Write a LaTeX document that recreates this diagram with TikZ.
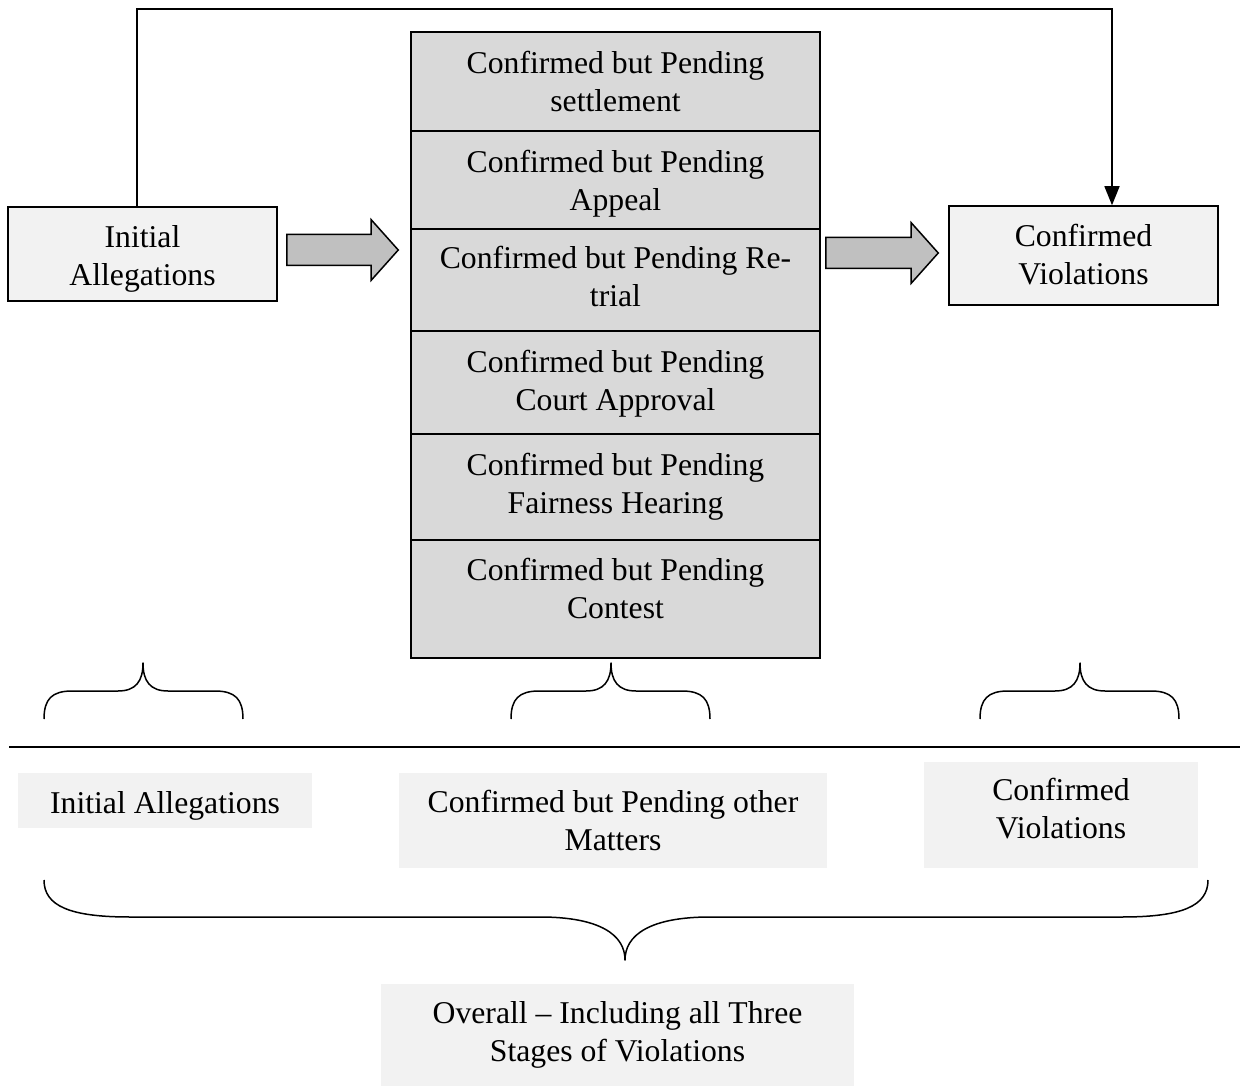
\documentclass[tikz,border=0pt]{standalone}
\usepackage{fontspec}
\setmainfont{Liberation Serif}
\usetikzlibrary{arrows.meta}
\definecolor{lightbox}{HTML}{F2F2F2}
\definecolor{cellgray}{HTML}{D9D9D9}
\definecolor{arrowgray}{HTML}{C0C0C0}
\newcommand\celltext[3]{\begin{tabular}{@{}c@{}}\noalign{\vskip #1}#3\\[#2]\end{tabular}}
\begin{document}
\begin{tikzpicture}[x=1pt,y=-1pt,
  font=\fontsize{31.7}{38}\selectfont,
  box/.style={draw, line width=1.5pt, inner sep=0pt, align=center},
  cell/.style={box, fill=cellgray, minimum width=409pt},
  label box/.style={fill=lightbox, inner sep=0pt, align=center},
  blockarrow/.style={draw, fill=arrowgray, line width=1.5pt, line join=miter},
  conn/.style={line width=1.5pt, -{Triangle[length=19pt,width=15pt]}},
  bracepath/.style={line width=1.5pt, line join=round}]
\useasboundingbox (0,0) rectangle (1240,1086);

% main boxes
\node[box, fill=lightbox, minimum width=269pt, minimum height=94pt] (ia) at (142.5,254) {\celltext{10pt}{0pt}{Initial\\Allegations}};
\node[box, fill=lightbox, minimum width=269pt, minimum height=99pt] (cv) at (1083.5,255.5) {\celltext{4pt}{0pt}{Confirmed\\Violations}};

% central column
\node[cell, minimum height=99pt]  (c1) at (615.5,81.5) {\celltext{6pt}{0pt}{Confirmed but Pending\\settlement}};
\node[cell, minimum height=98pt]  (c2) at (615.5,180)  {\celltext{8pt}{0pt}{Confirmed but Pending\\Appeal}};
\node[cell, minimum height=102pt] (c3) at (615.5,280)  {\celltext{0pt}{0pt}{Confirmed but Pending Re-\\trial}};
\node[cell, minimum height=103pt] (c4) at (615.5,382.5) {\celltext{2pt}{0pt}{Confirmed but Pending\\Court Approval}};
\node[cell, minimum height=106pt] (c5) at (615.5,487)  {\celltext{0pt}{0pt}{Confirmed but Pending\\Fairness Hearing}};
\node[cell, minimum height=118pt] (c6) at (615.5,599)  {\celltext{0pt}{14pt}{Confirmed but Pending\\Contest}};

% block arrows
\draw[blockarrow] ([xshift=9pt]ia.east |- 0,234.5) -- (371,234.5) -- (371,219.5) -- ([xshift=-12pt]c3.west |- 0,250)
  -- (371,280.5) -- (371,265.5) -- ([xshift=9pt]ia.east |- 0,265.5) -- cycle;
\draw[blockarrow] ([xshift=5pt]c3.east |- 0,237.5) -- (911,237.5) -- (911,222.5) -- ([xshift=-10pt]cv.west |- 0,253)
  -- (911,283.5) -- (911,268.5) -- ([xshift=5pt]c3.east |- 0,268.5) -- cycle;

% top connector
\coordinate (topl) at (137,9);
\coordinate (topr) at (1112,9);
\draw[conn] (ia.north -| topl) -- (topl) -- (topr) -- (cv.north -| topr);

% small braces
\draw[bracepath] (44,719) .. controls (44,699) and (52,691) .. (72,691) -- (118,691)
  .. controls (136,691) and (143,681) .. (143,663)
  .. controls (143,681) and (150,691) .. (168,691) -- (215,691)
  .. controls (235,691) and (243,699) .. (243,719);
\draw[bracepath] (511,719) .. controls (511,699) and (519,691) .. (539,691) -- (586,691)
  .. controls (604,691) and (611,681) .. (611,663)
  .. controls (611,681) and (618,691) .. (636,691) -- (682,691)
  .. controls (702,691) and (710,699) .. (710,719);
\draw[bracepath] (980,719) .. controls (980,699) and (988,691) .. (1008,691) -- (1055,691)
  .. controls (1073,691) and (1080,681) .. (1080,663)
  .. controls (1080,681) and (1087,691) .. (1105,691) -- (1151,691)
  .. controls (1171,691) and (1179,699) .. (1179,719);

% separator line
\coordinate (hl) at (9,747);
\coordinate (hr) at (1240,747);
\draw[line width=1.5pt] (hl) -- (hr);

% bottom labels
\node[label box, minimum width=294pt, minimum height=55pt] (b1) at (165,800.5) {\celltext{10pt}{0pt}{Initial Allegations}};
\node[label box, minimum width=428pt, minimum height=95pt] (b2) at (613,820.5) {\celltext{7pt}{0pt}{Confirmed but Pending other\\Matters}};
\node[label box, minimum width=274pt, minimum height=106pt] (b3) at (1061,815) {\celltext{0pt}{6pt}{Confirmed\\Violations}};

% big brace
\draw[bracepath] (44,880) .. controls (44,906) and (70,917) .. (130,917) -- (540,917)
  .. controls (600,917) and (625,935) .. (625,960)
  .. controls (625,935) and (650,917) .. (710,917) -- (1122,917)
  .. controls (1182,917) and (1208,906) .. (1208,880);

\node[label box, minimum width=473pt, minimum height=102pt] (ov) at (617.5,1035) {\celltext{0pt}{0pt}{Overall -- Including all Three\\Stages of Violations}};
\end{tikzpicture}
\end{document}
